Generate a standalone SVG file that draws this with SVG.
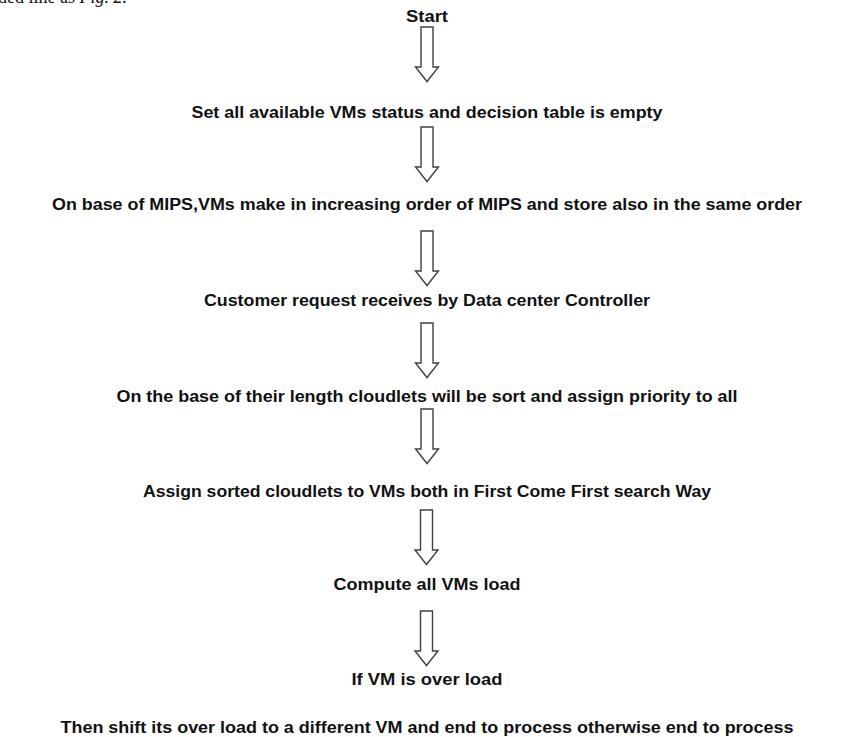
<svg xmlns="http://www.w3.org/2000/svg" width="847" height="737" viewBox="0 0 847 737">
<style>
.t{font-family:"Liberation Sans",Arial,sans-serif;font-weight:bold;font-size:16px;fill:#111;text-anchor:middle}
.a{fill:#fff;stroke:#404040;stroke-width:1.4;stroke-linejoin:miter}
.frag{font-family:"Liberation Serif","Times New Roman",serif;font-size:18px;fill:#111}
</style>
<defs>
<path id="arr" d="M-6,0 H6 V40 H11.5 L0,54.5 L-11.5,40 H-6 Z"/>
</defs>
<rect width="847" height="737" fill="#fff"/>
<text class="frag" x="-2" y="3">ded line as <tspan font-style="italic">Fig. 2.</tspan></text>
<g id="n1"><text class="t" x="427" y="22" textLength="42" lengthAdjust="spacingAndGlyphs">Start</text></g>
<g id="n2"><text class="t" x="427" y="118" textLength="471" lengthAdjust="spacingAndGlyphs">Set all available VMs status and decision table is empty</text></g>
<g id="n3"><text class="t" x="427" y="210" textLength="750" lengthAdjust="spacingAndGlyphs">On base of MIPS,VMs make in increasing order of MIPS and store also in the same order</text></g>
<g id="n4"><text class="t" x="427" y="306" textLength="446" lengthAdjust="spacingAndGlyphs">Customer request receives by Data center Controller</text></g>
<g id="n5"><text class="t" x="427" y="402" textLength="621" lengthAdjust="spacingAndGlyphs">On the base of their length cloudlets will be sort and assign priority to all</text></g>
<g id="n6"><text class="t" x="427" y="497" textLength="568" lengthAdjust="spacingAndGlyphs">Assign sorted cloudlets to VMs both in First Come First search Way</text></g>
<g id="n7"><text class="t" x="427" y="590" textLength="187" lengthAdjust="spacingAndGlyphs">Compute all VMs load</text></g>
<g id="n8"><text class="t" x="427" y="685" textLength="151" lengthAdjust="spacingAndGlyphs">If VM is over load</text></g>
<g id="n9"><text class="t" x="427" y="733" textLength="733" lengthAdjust="spacingAndGlyphs">Then shift its over load to a different VM and end to process otherwise end to process</text></g>
<g id="connectors">
<use href="#arr" class="a" x="427" y="27"/>
<use href="#arr" class="a" x="427" y="127"/>
<use href="#arr" class="a" x="427" y="231"/>
<use href="#arr" class="a" x="427" y="323"/>
<use href="#arr" class="a" x="427" y="409"/>
<use href="#arr" class="a" x="426.5" y="510"/>
<use href="#arr" class="a" x="426.5" y="611"/>
</g>
</svg>
